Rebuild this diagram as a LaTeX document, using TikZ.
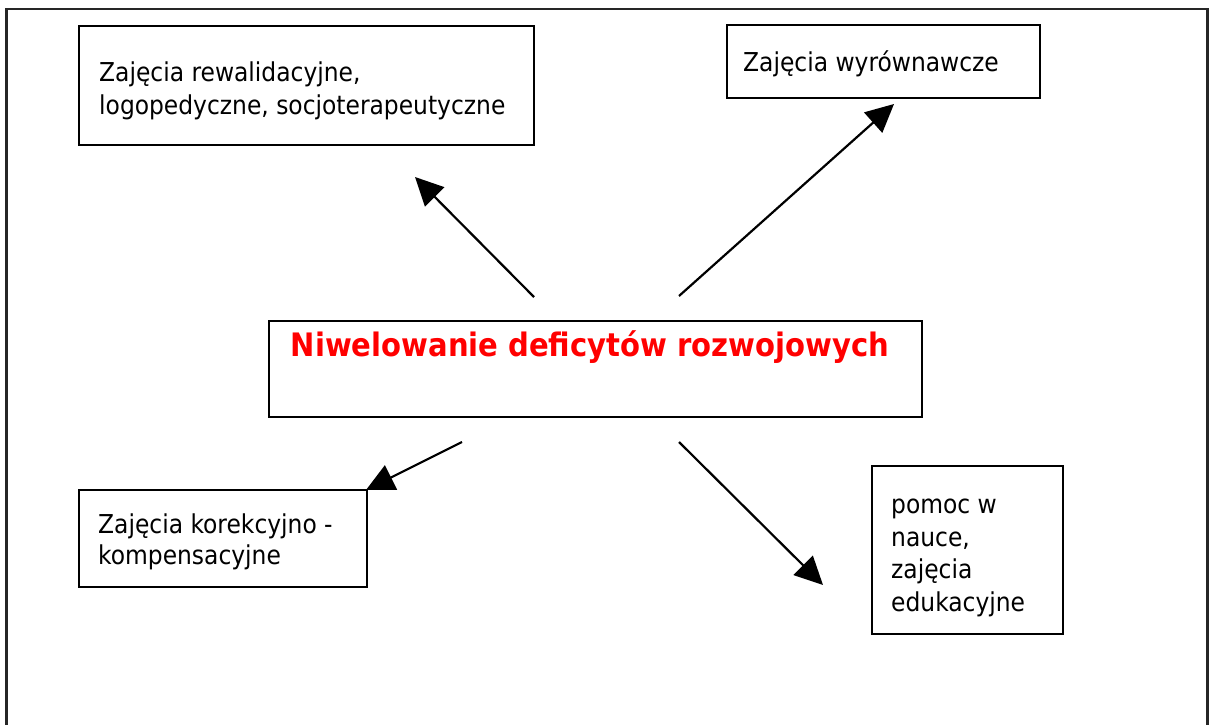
\documentclass[tikz,border=0pt]{standalone}
\usepackage{fontspec}
\setmainfont{DejaVu Sans Condensed}
\usetikzlibrary{arrows.meta}
\definecolor{titlered}{RGB}{255,0,0}
\begin{document}
\begin{tikzpicture}[x=1pt,y=-1pt,
  frame/.style={line width=2.4pt,draw=black!85},
  box/.style={draw,line width=2.3pt,rectangle,inner sep=0pt,anchor=north west},
  txt/.style={anchor=base west,inner sep=0pt,align=left,font=\fontsize{26}{32.5}\selectfont},
  title/.style={inner sep=0pt,font=\fontsize{32.3}{38}\selectfont\bfseries,text=titlered},
  link/.style={line width=2.2pt,-{Triangle[length=28pt,width=27pt]}}]
\useasboundingbox (0,0) rectangle (1211,725);
% page frame, open at the bottom
\draw[frame] (6.5,730) -- (6.5,9) -- (1207.5,9) -- (1207.5,730);

% boxes
\node[box,minimum width=455pt,minimum height=119pt] (rew) at (78,25) {};
\node[box,minimum width=313pt,minimum height=73pt] (wyr) at (726,24) {};
\node[box,minimum width=653pt,minimum height=96pt] (niw) at (268,320) {};
\node[box,minimum width=288pt,minimum height=97pt] (kor) at (78,489) {};
\node[box,minimum width=191pt,minimum height=168pt] (pom) at (871,465) {};

% texts (anchored at the baseline of their last line)
\node[txt] (rew-t) at (99,114) {Zajęcia rewalidacyjne,\\logopedyczne, socjoterapeutyczne};
\node[txt] (wyr-t) at (743,72) {Zajęcia wyrównawcze};
\node[title] (niw-t) at (590,347) {Niwelowanie deficytów rozwojowych};
\node[txt,font=\fontsize{26}{30.5}\selectfont] (kor-t) at (98,564) {Zajęcia korekcyjno -\\kompensacyjne};
\node[txt] (pom-t) at (891,611) {pomoc w\\nauce,\\zajęcia\\edukacyjne};

% arrow end points
\coordinate (a1s) at (534,297);
\coordinate (a1e) at (415,177);
\coordinate (a2s) at (679,296);
\coordinate (a2e) at (894,104);
\coordinate (a3s) at (462,442);
\coordinate (a3e) at (366,490);
\coordinate (a4s) at (679,442);
\coordinate (a4e) at (823,585);

\draw[link] (a1s) -- (a1e);
\draw[link] (a2s) -- (a2e);
\draw[link] (a3s) -- (a3e);
\draw[link] (a4s) -- (a4e);
\end{tikzpicture}
\end{document}
